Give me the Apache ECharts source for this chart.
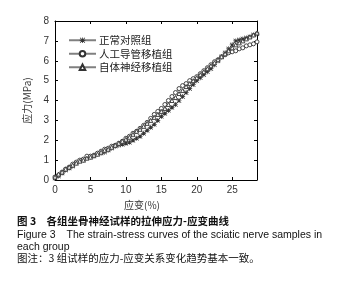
<!DOCTYPE html>
<html>
<head>
<meta charset="utf-8">
<script src="https://cdn.jsdelivr.net/npm/echarts@6/dist/echarts.min.js"></script>
<style>
  html, body { margin: 0; padding: 0; background: #fff; }
  #chart { width: 339px; height: 284px; }
</style>
</head>
<body>
<div id="chart"></div>
<script>
  const strain = [
    0, 0.5, 1, 1.5, 2, 2.5, 3, 3.5, 4, 4.5, 5, 5.5, 6, 6.5, 7, 7.5, 8, 8.5, 9, 9.5,
    10, 10.5, 11, 11.5, 12, 12.5, 13, 13.5, 14, 14.5, 15, 15.5, 16, 16.5, 17, 17.5,
    18, 18.5, 19, 19.5, 20, 20.5, 21, 21.5, 22, 22.5, 23, 23.5, 24, 24.5, 25, 25.5,
    26, 26.5, 27, 27.5, 28, 28.5,
  ];
  const normalGroup = [
    0.1, 0.2, 0.35, 0.5, 0.6, 0.7, 0.85, 0.95, 1.0, 1.1, 1.15, 1.2, 1.3, 1.35, 1.4, 1.5,
    1.6, 1.7, 1.75, 1.8, 1.85, 1.9, 2.0, 2.1, 2.2, 2.35, 2.5, 2.65, 2.8, 3.0, 3.2, 3.35,
    3.5, 3.65, 3.8, 4.0, 4.2, 4.4, 4.6, 4.8, 5.0, 5.15, 5.3, 5.45, 5.6, 5.8, 6.0, 6.2,
    6.4, 6.6, 6.8, 7.0, 7.05, 7.1, 7.15, 7.2, 7.3, 7.35,
  ];
  const conduitGroup = [
    0.15, 0.25, 0.4, 0.55, 0.65, 0.8, 0.9, 1.0, 1.05, 1.2, 1.2, 1.25, 1.35, 1.45, 1.55, 1.6,
    1.7, 1.75, 1.85, 1.95, 2.1, 2.2, 2.35, 2.45, 2.6, 2.75, 2.9, 3.1, 3.3, 3.45, 3.6, 3.8,
    4.0, 4.2, 4.4, 4.6, 4.75, 4.85, 5.0, 5.1, 5.2, 5.35, 5.5, 5.65, 5.8, 5.95, 6.05, 6.2,
    6.3, 6.4, 6.45, 6.5, 6.6, 6.65, 6.75, 6.8, 6.85, 6.95,
  ];
  const autograftGroup = [
    0.15, 0.3, 0.4, 0.55, 0.65, 0.75, 0.85, 0.95, 1.0, 1.1, 1.15, 1.25, 1.3, 1.4, 1.5, 1.55,
    1.65, 1.75, 1.85, 1.95, 2.05, 2.15, 2.3, 2.45, 2.55, 2.7, 2.85, 3.0, 3.15, 3.3, 3.45, 3.6,
    3.8, 4.0, 4.15, 4.35, 4.5, 4.7, 4.85, 5.0, 5.15, 5.3, 5.45, 5.6, 5.75, 5.9, 6.05, 6.2,
    6.35, 6.5, 6.65, 6.8, 6.9, 7.0, 7.1, 7.2, 7.3, 7.4,
  ];
  const seriesNames = ['正常对照组', '人工导管移植组', '自体神经移植组'];
  const xTicks = [0, 5, 10, 15, 20, 25];
  const captionLines = [
    '图 3　各组坐骨神经试样的拉伸应力-应变曲线',
    'Figure 3　The strain-stress curves of the sciatic nerve samples in',
    'each group',
    '图注：3 组试样的应力-应变关系变化趋势基本一致。',
  ];

  const asterisk = 'path://M4.3,0h1.4v10h-1.4z M0,4.3h10v1.4h-10z' +
    'M1.2,0.2L9.8,8.8L8.8,9.8L0.2,1.2z M8.8,0.2L9.8,1.2L1.2,9.8L0.2,8.8z';

  const pairs = (ys) => strain.map((x, i) => [x, ys[i]]);
  const lineColor = '#808080';
  const markColor = '#333';
  const cn = '"Noto Sans CJK SC", sans-serif';
  const latin = '"Liberation Sans", Arial, sans-serif';

  const makeSeries = (name, data, symbol, size, filled) => ({
    name,
    type: 'line',
    data: pairs(data),
    symbol,
    symbolSize: size,
    showAllSymbol: true,
    lineStyle: {color: lineColor, width: 1},
    itemStyle: {
      color: filled ? markColor : '#fff',
      borderColor: markColor,
      borderWidth: filled ? 0 : 0.9,
    },
    emphasis: {disabled: true},
    animation: false,
  });

  const chart = echarts.init(document.getElementById('chart'), null, {renderer: 'canvas'});
  chart.setOption({
    backgroundColor: '#fff',
    animation: false,
    grid: {left: 55, right: 82, top: 21, bottom: 104},
    legend: {
      orient: 'vertical',
      left: 63,
      top: 30,
      itemWidth: 27,
      itemHeight: 7,
      itemGap: 3,
      data: seriesNames,
      textStyle: {fontFamily: cn, fontSize: 10.5, color: '#222', padding: [0, 0, 0, -2]},
      selectedMode: false,
    },
    xAxis: [
      {
        type: 'value', min: 0, max: 28.5, position: 'bottom',
        name: '应变(%)', nameLocation: 'middle', nameGap: 18,
        nameTextStyle: {fontFamily: cn, fontSize: 10, color: '#333', padding: [0, 28, 0, 0]},
        axisLine: {show: true, onZero: false, lineStyle: {color: '#000', width: 1}},
        axisTick: {inside: true, length: 3, customValues: xTicks, lineStyle: {color: '#000'}},
        axisLabel: {customValues: xTicks, fontFamily: latin, fontSize: 10, color: '#333', margin: 5},
        splitLine: {show: false},
      },
      {
        type: 'value', min: 0, max: 28.5, position: 'top',
        axisLine: {show: true, onZero: false, lineStyle: {color: '#000', width: 1}},
        axisTick: {inside: true, length: 3, customValues: xTicks, lineStyle: {color: '#000'}},
        axisLabel: {show: false},
        splitLine: {show: false},
      },
    ],
    yAxis: [
      {
        type: 'value', min: 0, max: 8, interval: 1, position: 'left',
        name: '应力(MPa)', nameLocation: 'middle', nameGap: 20,
        nameTextStyle: {fontFamily: cn, fontSize: 10, color: '#333'},
        axisLine: {show: true, onZero: false, lineStyle: {color: '#000', width: 1}},
        axisTick: {inside: true, length: 3, lineStyle: {color: '#000'}},
        axisLabel: {fontFamily: latin, fontSize: 10, color: '#333', margin: 6},
        splitLine: {show: false},
      },
      {
        type: 'value', min: 0, max: 8, interval: 1, position: 'right',
        axisLine: {show: true, onZero: false, lineStyle: {color: '#000', width: 1}},
        axisTick: {inside: true, length: 3, lineStyle: {color: '#000'}},
        axisLabel: {show: false},
        splitLine: {show: false},
      },
    ],
    series: [
      makeSeries(seriesNames[0], normalGroup, asterisk, 5, true),
      makeSeries(seriesNames[1], conduitGroup, 'circle', 4, false),
      makeSeries(seriesNames[2], autograftGroup, 'triangle', 4, false),
    ],
    graphic: [
      {type: 'text', left: 17, top: 216,
        style: {text: captionLines[0], font: `bold 10.5px ${cn}`, fill: '#111'}},
      {type: 'text', left: 17, top: 230,
        style: {text: captionLines[1], font: `10.5px ${latin}`, fill: '#111'}},
      {type: 'text', left: 17, top: 242,
        style: {text: captionLines[2], font: `10.5px ${latin}`, fill: '#111'}},
      {type: 'text', left: 17, top: 253,
        style: {text: captionLines[3], font: `10.5px ${cn}`, fill: '#111'}},
    ],
  });
</script>
</body>
</html>
